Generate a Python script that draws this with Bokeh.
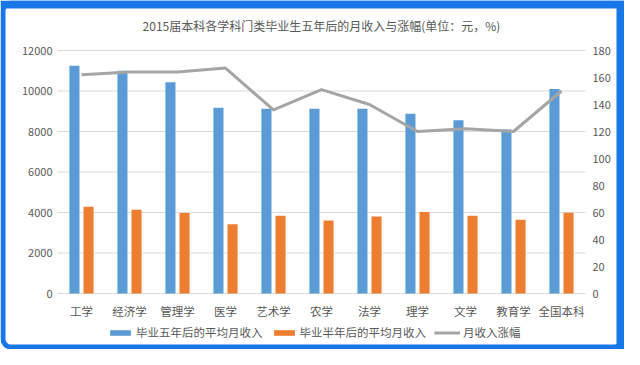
from bokeh.plotting import figure
from bokeh.models import (Range1d, Legend, LegendItem, ColumnDataSource, BoxAnnotation)
from bokeh.core.properties import value
from bokeh.transform import dodge
from bokeh.embed import file_html
from bokeh.resources import INLINE

categories = ["工学", "经济学", "管理学", "医学", "艺术学", "农学", "法学", "理学", "文学", "教育学", "全国本科"]
income_5yr = [11250, 11000, 10430, 9170, 9120, 9120, 9120, 8880, 8560, 8100, 10100]
income_half = [4280, 4130, 3970, 3415, 3840, 3600, 3800, 4030, 3840, 3640, 3990]
growth_pct = [162, 164, 164, 167, 136, 151, 140, 120, 122, 120, 150]
left_ticks = [0, 2000, 4000, 6000, 8000, 10000, 12000]
right_ticks = [0, 20, 40, 60, 80, 100, 120, 140, 160, 180]

title_text = "2015届本科各学科门类毕业生五年后的月收入与涨幅(单位：元，%)"
series_names = ["毕业五年后的平均月收入", "毕业半年后的平均月收入", "月收入涨幅"]

FONT = "Noto Sans CJK SC"
BLUE = "#5B9BD5"
ORANGE = "#ED7D31"
GREY = "#A5A5A5"
TXT = "#595959"
GRID = "#D9D9D9"
FRAME = "#1877E6"

W, H = 624, 349
N = len(categories)
LEFT_MAX, RIGHT_MAX = 12000, 180
RATIO = RIGHT_MAX / LEFT_MAX

# layout of the drawing area (pixels inside the figure)
PLOT_L, PLOT_R, PLOT_T, PLOT_B = 57, 585, 50, 293
cat_px = (PLOT_R - PLOT_L) / N
x_lo = -0.5 - PLOT_L / cat_px
x_hi = x_lo + W / cat_px
per_px = LEFT_MAX / (PLOT_B - PLOT_T)
y_hi = LEFT_MAX + PLOT_T * per_px
y_lo = -(H - PLOT_B) * per_px

idx = list(range(N))
src = ColumnDataSource(dict(x=idx, cat=categories, a=income_5yr, b=income_half,
                            g=growth_pct, zero=[0] * N))
lt = ColumnDataSource(dict(y=left_ticks, lab=[str(v) for v in left_ticks],
                           x0=[-0.5] * len(left_ticks), x1=[N - 0.5] * len(left_ticks)))
rt = ColumnDataSource(dict(y=right_ticks, lab=[str(v) for v in right_ticks],
                           x=[N - 0.5] * len(right_ticks)))

p = figure(x_range=Range1d(x_lo, x_hi), y_range=Range1d(y_lo, y_hi),
           width=W, height=H, output_backend="svg", toolbar_location=None,
           title=None, x_axis_location=None, y_axis_location=None,
           min_border_left=0, min_border_right=0, min_border_top=0, min_border_bottom=0)
p.extra_y_ranges = {"pct": Range1d(y_lo * RATIO, y_hi * RATIO)}
p.grid.visible = False
p.outline_line_color = None
p.background_fill_color = "white"
p.border_fill_color = "white"

# gridlines at the left-axis ticks
p.segment(x0="x0", x1="x1", y0="y", y1="y", source=lt, line_color=GRID, line_width=1)

r1 = p.vbar(x=dodge("x", -0.147), top="a", width=0.21, source=src,
            fill_color=BLUE, line_color=None)
r2 = p.vbar(x=dodge("x", 0.147), top="b", width=0.21, source=src,
            fill_color=ORANGE, line_color=None)
r3 = p.line(x="x", y="g", source=src, y_range_name="pct", line_color=GREY,
            line_width=3, line_join="round")

# axis texts
p.text(x="x", y="zero", text="cat", source=src, y_offset=17,
       text_align="center", text_baseline="middle", text_font_size="11.5px",
       text_color=TXT, text_font=value(FONT))
p.text(x="x0", y="y", text="lab", source=lt, x_offset=-5,
       text_align="right", text_baseline="middle", text_font_size="11px",
       text_color=TXT, text_font=value(FONT))
p.text(x="x", y="y", text="lab", source=rt, y_range_name="pct", x_offset=7,
       text_align="left", text_baseline="middle", text_font_size="11px",
       text_color=TXT, text_font=value(FONT))

# title
tsrc = ColumnDataSource(dict(x=[(N - 1) / 2], y=[LEFT_MAX], t=[title_text]))
p.text(x="x", y="y", text="t", source=tsrc, y_offset=-25,
       text_align="center", text_baseline="middle", text_font_size="12px",
       text_color=TXT, text_font=value(FONT))

legend = Legend(items=[LegendItem(label=series_names[0], renderers=[r1]),
                       LegendItem(label=series_names[1], renderers=[r2]),
                       LegendItem(label=series_names[2], renderers=[r3])],
                orientation="horizontal", location=(107, 9),
                glyph_width=26, glyph_height=7, label_standoff=3, spacing=8,
                padding=2, margin=0, border_line_color=None,
                background_fill_alpha=0,
                label_text_font=FONT, label_text_font_size="11.5px",
                label_text_color=TXT, label_height=14)
p.add_layout(legend)

# outer blue frame, in screen units
p.add_layout(BoxAnnotation(left=2.5, right=W - 2.5, top=2.5, bottom=H - 2.5,
                           left_units="screen", right_units="screen",
                           top_units="screen", bottom_units="screen",
                           fill_alpha=0, line_color=FRAME, line_width=5,
                           line_alpha=1, border_radius=8))
p.add_layout(BoxAnnotation(left=W - 8, right=W, top=0, bottom=H,
                           left_units="screen", right_units="screen",
                           top_units="screen", bottom_units="screen",
                           fill_color=FRAME, fill_alpha=1, line_color=None))
p.add_layout(BoxAnnotation(left=0, right=W, top=H - 8, bottom=H,
                           left_units="screen", right_units="screen",
                           top_units="screen", bottom_units="screen",
                           fill_color=FRAME, fill_alpha=1, line_color=None))

open("out.html", "w").write(file_html(p, INLINE))
